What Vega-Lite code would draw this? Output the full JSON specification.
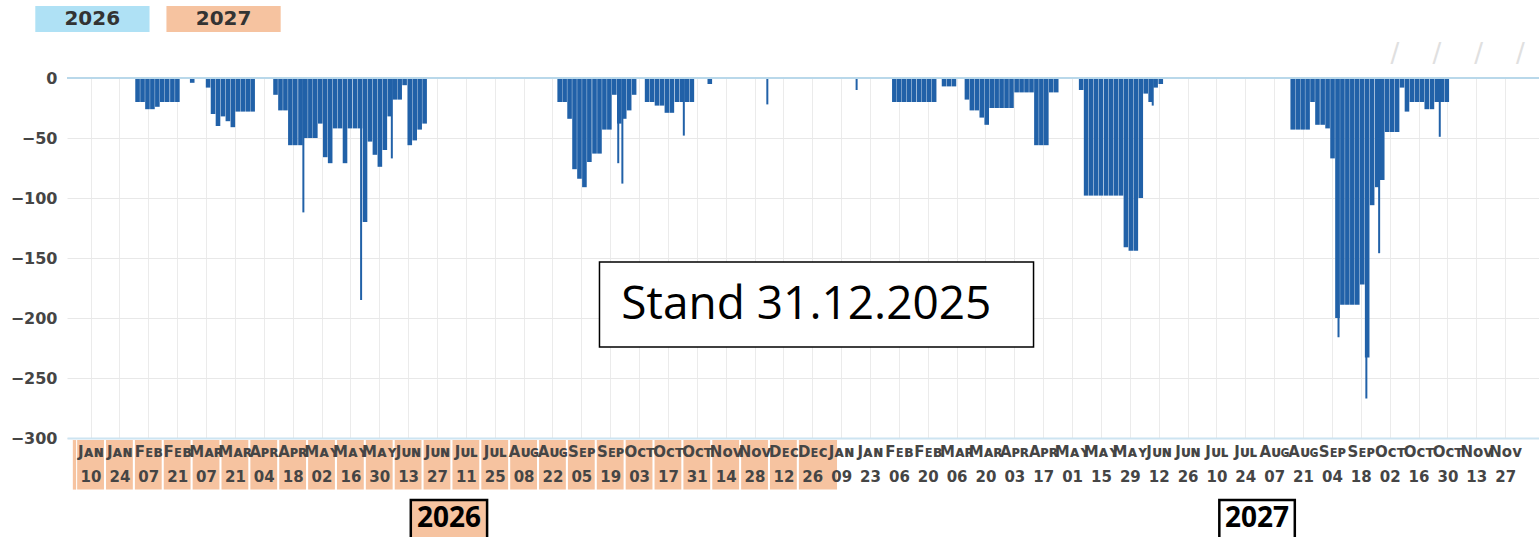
{
  "$schema": "https://vega.github.io/schema/vega-lite/v6.json",
  "width": 1472,
  "height": 360,
  "autosize": {"type": "none"},
  "padding": {"left": 67, "top": 78, "right": 0, "bottom": 99},
  "background": "white",
  "config": {"view": {"stroke": null}},
  "datasets": {
    "bars": [
      {"day": 31.8, "v": -20}, {"day": 34.2, "v": -20}, {"day": 36.6, "v": -26}, {"day": 39.0, "v": -26}, {"day": 41.4, "v": -24}, {"day": 43.8, "v": -20}, {"day": 46.2, "v": -20}, {"day": 48.7, "v": -20}, {"day": 51.1, "v": -20}, {"day": 58.3, "v": -4},
      {"day": 66.0, "v": -8}, {"day": 68.4, "v": -30}, {"day": 70.8, "v": -40}, {"day": 73.2, "v": -32}, {"day": 75.6, "v": -36}, {"day": 78.0, "v": -41}, {"day": 80.4, "v": -28}, {"day": 82.8, "v": -28}, {"day": 85.2, "v": -28}, {"day": 87.6, "v": -28},
      {"day": 98.7, "v": -14}, {"day": 101.1, "v": -27}, {"day": 103.5, "v": -27}, {"day": 105.9, "v": -56}, {"day": 108.3, "v": -56}, {"day": 110.8, "v": -56}, {"day": 113.2, "v": -50}, {"day": 115.6, "v": -50}, {"day": 118.0, "v": -50}, {"day": 120.4, "v": -38}, {"day": 122.8, "v": -66}, {"day": 125.2, "v": -71}, {"day": 127.6, "v": -42}, {"day": 130.0, "v": -42}, {"day": 132.4, "v": -71}, {"day": 134.8, "v": -42}, {"day": 137.3, "v": -42}, {"day": 139.7, "v": -42}, {"day": 142.1, "v": -120}, {"day": 144.5, "v": -53}, {"day": 146.9, "v": -64}, {"day": 149.3, "v": -74}, {"day": 151.7, "v": -60}, {"day": 154.1, "v": -32}, {"day": 156.5, "v": -18}, {"day": 158.9, "v": -18}, {"day": 161.3, "v": -6}, {"day": 163.8, "v": -56}, {"day": 166.2, "v": -52}, {"day": 168.6, "v": -43}, {"day": 171.0, "v": -38},
      {"day": 236.5, "v": -20}, {"day": 238.9, "v": -20}, {"day": 241.3, "v": -34}, {"day": 243.7, "v": -76}, {"day": 246.1, "v": -84}, {"day": 248.5, "v": -91}, {"day": 250.9, "v": -70}, {"day": 253.4, "v": -63}, {"day": 255.8, "v": -63}, {"day": 258.2, "v": -43}, {"day": 260.6, "v": -43}, {"day": 263.0, "v": -14}, {"day": 265.4, "v": -38}, {"day": 267.8, "v": -34}, {"day": 270.2, "v": -27}, {"day": 272.6, "v": -14},
      {"day": 278.9, "v": -20}, {"day": 281.3, "v": -20}, {"day": 283.7, "v": -23}, {"day": 286.1, "v": -23}, {"day": 288.5, "v": -29}, {"day": 290.9, "v": -29}, {"day": 293.4, "v": -20}, {"day": 295.8, "v": -20}, {"day": 298.2, "v": -20}, {"day": 300.6, "v": -20}, {"day": 309.3, "v": -5},
      {"day": 398.8, "v": -20}, {"day": 401.2, "v": -20}, {"day": 403.6, "v": -20}, {"day": 406.0, "v": -20}, {"day": 408.4, "v": -20}, {"day": 410.9, "v": -20}, {"day": 413.3, "v": -20}, {"day": 415.7, "v": -20}, {"day": 418.1, "v": -20},
      {"day": 422.9, "v": -7}, {"day": 425.3, "v": -7}, {"day": 427.7, "v": -7},
      {"day": 434.0, "v": -18}, {"day": 436.4, "v": -27}, {"day": 438.8, "v": -27}, {"day": 441.2, "v": -33}, {"day": 443.6, "v": -39}, {"day": 446.0, "v": -25}, {"day": 448.4, "v": -25}, {"day": 450.8, "v": -25}, {"day": 453.2, "v": -25}, {"day": 455.6, "v": -25}, {"day": 458.1, "v": -12}, {"day": 460.5, "v": -12}, {"day": 462.9, "v": -12}, {"day": 465.3, "v": -12}, {"day": 467.7, "v": -56}, {"day": 470.1, "v": -56}, {"day": 472.5, "v": -56}, {"day": 474.9, "v": -12}, {"day": 477.3, "v": -12},
      {"day": 489.4, "v": -10}, {"day": 491.8, "v": -98}, {"day": 494.2, "v": -98}, {"day": 496.6, "v": -98}, {"day": 499.0, "v": -98}, {"day": 501.5, "v": -98}, {"day": 503.9, "v": -98}, {"day": 506.3, "v": -98}, {"day": 508.7, "v": -98}, {"day": 511.1, "v": -141}, {"day": 513.5, "v": -144}, {"day": 515.9, "v": -144}, {"day": 518.3, "v": -100}, {"day": 520.7, "v": -13}, {"day": 523.1, "v": -20}, {"day": 525.5, "v": -8}, {"day": 528.0, "v": -5},
      {"day": 592.0, "v": -43}, {"day": 594.4, "v": -43}, {"day": 596.8, "v": -43}, {"day": 599.2, "v": -43}, {"day": 601.6, "v": -20}, {"day": 604.0, "v": -39}, {"day": 606.5, "v": -39}, {"day": 608.9, "v": -42}, {"day": 611.3, "v": -67}, {"day": 613.7, "v": -200}, {"day": 616.1, "v": -189}, {"day": 618.5, "v": -189}, {"day": 620.9, "v": -189}, {"day": 623.3, "v": -189}, {"day": 625.7, "v": -172}, {"day": 628.1, "v": -233}, {"day": 630.5, "v": -106}, {"day": 633.0, "v": -91}, {"day": 635.4, "v": -85}, {"day": 637.8, "v": -45}, {"day": 640.2, "v": -45}, {"day": 642.6, "v": -45}, {"day": 645.0, "v": -8}, {"day": 647.4, "v": -28}, {"day": 649.8, "v": -20}, {"day": 652.2, "v": -20}, {"day": 654.6, "v": -20}, {"day": 657.0, "v": -26}, {"day": 659.5, "v": -26}, {"day": 661.9, "v": -20}, {"day": 664.3, "v": -20}, {"day": 666.7, "v": -20}
    ],
    "spikes": [
      {"day": 112.2, "v": -112}, {"day": 140.2, "v": -185}, {"day": 155.1, "v": -67}, {"day": 264.9, "v": -71}, {"day": 266.9, "v": -88}, {"day": 296.7, "v": -48}, {"day": 337.2, "v": -22}, {"day": 380.5, "v": -10}, {"day": 524.1, "v": -23}, {"day": 614.2, "v": -216}, {"day": 627.7, "v": -267}, {"day": 633.9, "v": -146}, {"day": 663.3, "v": -49}
    ],
    "labelboxes": [
      {"a": 0.4, "b": 2.0}, {"a": 2.5, "b": 15.5}, {"a": 16.5, "b": 29.5}, {"a": 30.5, "b": 43.5}, {"a": 44.5, "b": 57.5}, {"a": 58.5, "b": 71.5}, {"a": 72.5, "b": 85.5}, {"a": 86.5, "b": 99.5}, {"a": 100.5, "b": 113.5}, {"a": 114.5, "b": 127.5}, {"a": 128.5, "b": 141.5}, {"a": 142.5, "b": 155.5}, {"a": 156.5, "b": 169.5}, {"a": 170.5, "b": 183.5}, {"a": 184.5, "b": 197.5}, {"a": 198.5, "b": 211.5}, {"a": 212.5, "b": 225.5}, {"a": 226.5, "b": 239.5}, {"a": 240.5, "b": 253.5}, {"a": 254.5, "b": 267.5}, {"a": 268.5, "b": 281.5}, {"a": 282.5, "b": 295.5}, {"a": 296.5, "b": 309.5}, {"a": 310.5, "b": 323.5}, {"a": 324.5, "b": 337.5}, {"a": 338.5, "b": 351.5}, {"a": 352.5, "b": 371.0}
    ]
  },
  "resolve": {"axis": {"x": "independent"}},
  "layer": [
    {
      "data": {"name": "bars"},
      "mark": {"type": "bar", "width": 4.6, "color": "#2161a8"},
      "encoding": {
        "x": {"field": "day", "type": "quantitative", "scale": {"domain": [0, 709]},
          "axis": {"orient": "bottom", "values": [9,23,37,51,65,79,93,107,121,135,149,163,177,191,205,219,233,247,261,275,289,303,317,331,345,359,373,387,401,415,429,443,457,471,485,499,513,527,541,555,569,583,597,611,625,639,653,667,681,695], "labels": false, "ticks": false, "domain": false, "grid": true, "gridColor": "#ebebeb", "gridWidth": 1, "title": null, "zindex": 0}},
        "y": {"field": "v", "type": "quantitative", "scale": {"domain": [-300, 0], "nice": false},
          "axis": {"values": [0,-50,-100,-150,-200,-250,-300], "ticks": false, "domain": false, "grid": true, "gridColor": "#e8e8e8", "labelFont": "DejaVu Sans", "labelFontSize": 16, "labelFontWeight": "bold", "labelColor": "#454545", "labelPadding": 10, "title": null}}
      }
    },
    {
      "data": {"name": "spikes"},
      "mark": {"type": "rule", "color": "#2161a8", "strokeWidth": 2},
      "encoding": {
        "x": {"field": "day", "type": "quantitative", "scale": {"domain": [0, 709]}, "axis": null},
        "y": {"field": "v", "type": "quantitative", "scale": {"domain": [-300, 0], "nice": false}},
        "y2": {"datum": 0}
      }
    },
    {
      "data": {"values": [{"v": 0}]},
      "mark": {"type": "rule", "color": "#b9d8ea", "strokeWidth": 2},
      "encoding": {
        "y": {"field": "v", "type": "quantitative", "scale": {"domain": [-300, 0], "nice": false}}
      }
    },
    {
      "data": {"name": "labelboxes"},
      "mark": {"type": "rect", "color": "#f6c3a0"},
      "encoding": {
        "x": {"field": "a", "type": "quantitative", "scale": {"domain": [0, 709]},
          "axis": {"orient": "bottom", "values": [9,23,37,51,65,79,93,107,121,135,149,163,177,191,205,219,233,247,261,275,289,303,317,331,345,359,373,387,401,415,429,443,457,471,485,499,513,527,541,555,569,583,597,611,625,639,653,667,681,695],
            "labelExpr": "[['Jᴀɴ','Fᴇʙ','Mᴀʀ','Aᴘʀ','Mᴀʏ','Jᴜɴ','Jᴜʟ','Aᴜɢ','Sᴇᴘ','Oᴄᴛ','Nᴏᴠ','Dᴇᴄ'][month(datetime(2026,0,1+datum.value))], timeFormat(datetime(2026,0,1+datum.value),'%d')]",
            "grid": false, "ticks": false, "domain": true, "domainColor": "#cde4f1", "domainWidth": 2, "labelFont": "DejaVu Sans", "labelFontSize": 15, "labelFontWeight": "bold", "labelColor": "#454545", "labelLineHeight": 25, "labelPadding": 6, "labelOverlap": false, "labelBound": false, "labelFlush": false, "title": null, "zindex": 1}},
        "x2": {"field": "b"},
        "y": {"datum": -301.7, "type": "quantitative", "scale": {"domain": [-300, 0], "nice": false}},
        "y2": {"datum": -343}
      }
    },
    {
      "data": {"values": [{"x": 672, "y": 20, "label": "/\u00a0\u00a0\u00a0\u00a0/\u00a0\u00a0\u00a0\u00a0/\u00a0\u00a0\u00a0\u00a0/"}]},
      "mark": {"type": "text", "align": "center", "baseline": "middle", "font": "DejaVu Sans", "fontSize": 26, "color": "#e0e0e0"},
      "encoding": {
        "x": {"field": "x", "type": "quantitative", "scale": {"domain": [0, 709]}, "axis": null},
        "y": {"field": "y", "type": "quantitative", "scale": {"domain": [-300, 0], "nice": false}},
        "text": {"field": "label"}
      }
    },
    {
      "data": {"values": [{"x0": 255.8, "x1": 466.3, "y0": -153.3, "y1": -224.2}]},
      "mark": {"type": "rect", "fill": "white", "stroke": "black", "strokeWidth": 1.5},
      "encoding": {
        "x": {"field": "x0", "type": "quantitative", "scale": {"domain": [0, 709]}, "axis": null},
        "x2": {"field": "x1"},
        "y": {"field": "y0", "type": "quantitative", "scale": {"domain": [-300, 0], "nice": false}},
        "y2": {"field": "y1"}
      }
    },
    {
      "data": {"values": [{"x": 266.4, "y": -189, "label": "Stand 31.12.2025"}]},
      "mark": {"type": "text", "align": "left", "baseline": "middle", "font": "Open Sans", "fontSize": 46, "color": "black"},
      "encoding": {
        "x": {"field": "x", "type": "quantitative", "scale": {"domain": [0, 709]}, "axis": null},
        "y": {"field": "y", "type": "quantitative", "scale": {"domain": [-300, 0], "nice": false}},
        "text": {"field": "label"}
      }
    },
    {
      "data": {"values": [{"year": "2026", "x0": 164.3, "x1": 201.3}, {"year": "2027", "x0": 556.4, "x1": 593.0}]},
      "mark": {"type": "rect", "stroke": "black", "strokeWidth": 2.5},
      "encoding": {
        "x": {"field": "x0", "type": "quantitative", "scale": {"domain": [0, 709]}, "axis": null},
        "x2": {"field": "x1"},
        "y": {"datum": -351.7, "type": "quantitative", "scale": {"domain": [-300, 0], "nice": false}},
        "y2": {"datum": -395},
        "fill": {"condition": {"test": "datum.year == '2026'", "value": "#f6c3a0"}, "value": "white"}
      }
    },
    {
      "data": {"values": [{"year": "2026", "x": 182.8}, {"year": "2027", "x": 574.7}]},
      "mark": {"type": "text", "align": "center", "baseline": "middle", "font": "Open Sans", "fontSize": 28, "fontWeight": "bold", "color": "black"},
      "encoding": {
        "x": {"field": "x", "type": "quantitative", "scale": {"domain": [0, 709]}, "axis": null},
        "y": {"datum": -367.5, "type": "quantitative", "scale": {"domain": [-300, 0], "nice": false}},
        "text": {"field": "year"}
      }
    },
    {
      "data": {"values": [{"year": "2026", "x0": -17.8, "x1": 37.6}, {"year": "2027", "x0": 45.8, "x1": 101.2}]},
      "mark": {"type": "rect"},
      "encoding": {
        "x": {"field": "x0", "type": "quantitative", "scale": {"domain": [0, 709]}, "axis": null},
        "x2": {"field": "x1"},
        "y": {"datum": 60, "type": "quantitative", "scale": {"domain": [-300, 0], "nice": false}},
        "y2": {"datum": 38.3},
        "fill": {"condition": {"test": "datum.year == '2026'", "value": "#afe1f5"}, "value": "#f6c3a0"}
      }
    },
    {
      "data": {"values": [{"year": "2026", "x": 9.8}, {"year": "2027", "x": 73.5}]},
      "mark": {"type": "text", "align": "center", "baseline": "middle", "font": "DejaVu Sans", "fontSize": 20, "fontWeight": "bold", "color": "#333333"},
      "encoding": {
        "x": {"field": "x", "type": "quantitative", "scale": {"domain": [0, 709]}, "axis": null},
        "y": {"datum": 49.2, "type": "quantitative", "scale": {"domain": [-300, 0], "nice": false}},
        "text": {"field": "year"}
      }
    }
  ]
}
